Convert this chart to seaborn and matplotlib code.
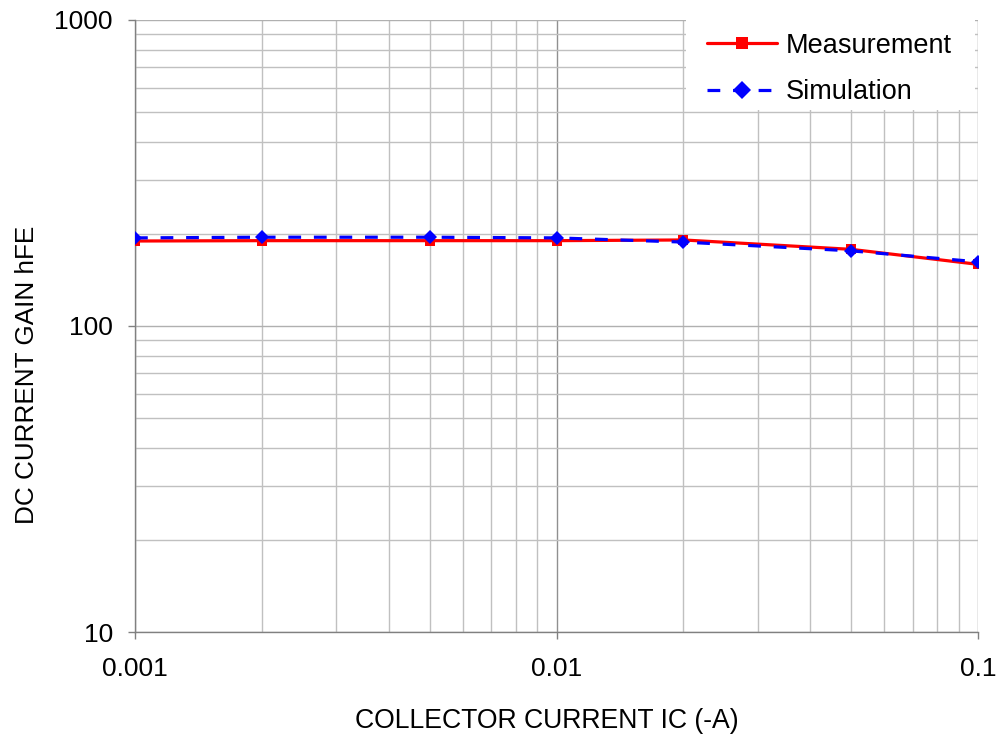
import matplotlib
matplotlib.use("Agg")
import matplotlib.pyplot as plt
import seaborn as sns
import pandas as pd
from matplotlib.patches import Rectangle
from matplotlib.ticker import LogLocator, FixedLocator, NullFormatter, FixedFormatter

ic = [0.001, 0.002, 0.005, 0.01, 0.02, 0.05, 0.1]
meas = [189.5, 190, 190, 190, 191, 178, 159]
sim = [194, 195, 195, 194, 188, 176, 162]

x_ticks = [0.001, 0.01, 0.1]
x_tick_labels = ["0.001", "0.01", "0.1"]
y_ticks = [10, 100, 1000]
y_tick_labels = ["10", "100", "1000"]

sns.set_theme(style="white")
plt.rcParams['font.family'] = ['Liberation Sans', 'DejaVu Sans']

df = pd.DataFrame({"ic": ic * 2, "hfe": meas + sim,
                   "series": ["Measurement"] * len(ic) + ["Simulation"] * len(ic)})

fig = plt.figure(figsize=(10, 7.38), dpi=100)
ax = fig.add_axes([0.135, 0.1436, 0.843, 0.8294])

sns.lineplot(data=df[df.series == "Measurement"], x="ic", y="hfe", ax=ax,
             color="#ff0000", lw=2.3, marker="s", markersize=6.5, markeredgewidth=0,
             label="Measurement", zorder=3)
sns.lineplot(data=df[df.series == "Simulation"], x="ic", y="hfe", ax=ax,
             color="#0000ff", lw=2.3, ls=(0, (4, 4)), marker="D", markersize=7,
             markeredgewidth=0, label="Simulation", zorder=4)

ax.set_xscale("log")
ax.set_yscale("log")
ax.set_xlim(0.001, 0.1)
ax.set_ylim(10, 1000)

ax.xaxis.set_major_locator(FixedLocator(x_ticks))
ax.xaxis.set_major_formatter(FixedFormatter(x_tick_labels))
ax.xaxis.set_minor_locator(LogLocator(base=10, subs=range(2, 10)))
ax.xaxis.set_minor_formatter(NullFormatter())
ax.yaxis.set_major_locator(FixedLocator(y_ticks))
ax.yaxis.set_major_formatter(FixedFormatter(y_tick_labels))
ax.yaxis.set_minor_locator(LogLocator(base=10, subs=range(2, 10)))
ax.yaxis.set_minor_formatter(NullFormatter())

ax.grid(True, which="minor", color="#c0c0c0", lw=1)
ax.grid(True, axis="x", which="major", color="#909090", lw=1)
ax.grid(True, axis="y", which="major", color="#b0b0b0", lw=1)
ax.set_axisbelow(True)
for s in ["top", "right"]:
    ax.spines[s].set_visible(False)
for s in ["left", "bottom"]:
    ax.spines[s].set_color("#808080")
    ax.spines[s].set_linewidth(1)

ax.tick_params(axis="both", which="major", length=5, width=1, color="#808080",
               labelsize=19, direction="out", bottom=True, left=True, labelcolor="black")
ax.tick_params(axis="y", which="major", pad=11)
ax.tick_params(axis="x", which="major", pad=13)
ax.tick_params(axis="both", which="minor", length=0)

ax.set_xlabel("COLLECTOR CURRENT IC (-A)", fontsize=19.2, color="black")
ax.set_ylabel("DC CURRENT GAIN hFE", fontsize=18.8, color="black")
ax.xaxis.set_label_coords(0.488, -0.145)
ax.xaxis.label.set_va("center")
ax.yaxis.set_label_coords(-0.128, 0.42)
ax.yaxis.label.set_va("center")

# white legend panel
ax.add_patch(Rectangle((0.654, 0.853), 0.3424, 0.147, transform=ax.transAxes,
                       facecolor="white", edgecolor="none", zorder=2))
leg = ax.legend(loc="upper left", bbox_to_anchor=(0.6785, 0.979), fontsize=19.5,
                frameon=False, handlelength=2.6, handletextpad=0.3, borderpad=0,
                labelspacing=0.75, borderaxespad=0, markerscale=1.3)
for t in leg.get_texts():
    t.set_color("black")

fig.savefig("out.png", dpi=100)
